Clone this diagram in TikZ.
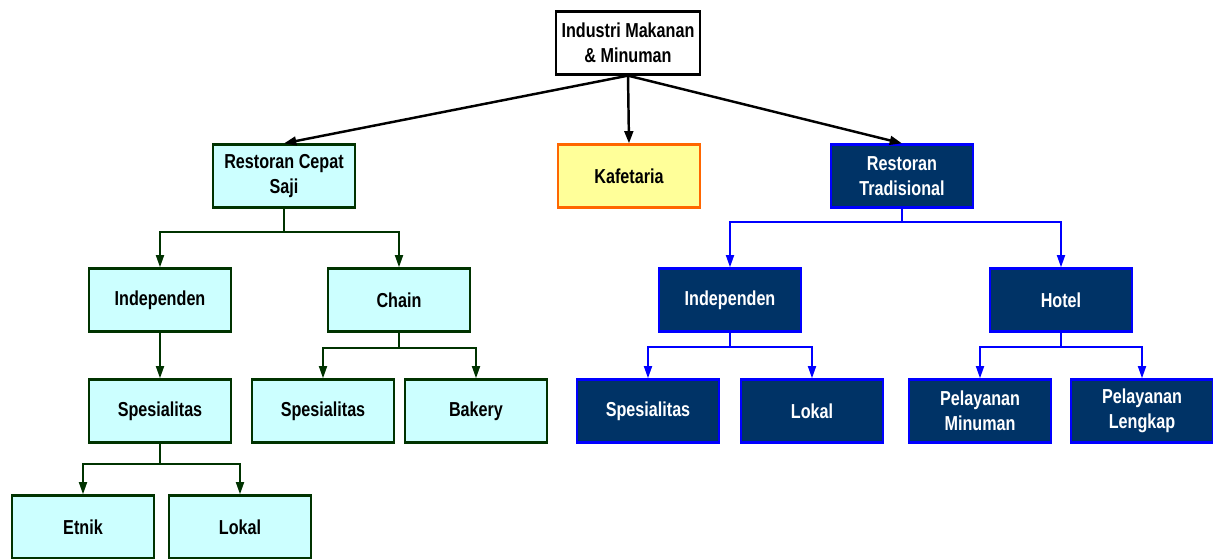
\documentclass[tikz,border=0pt]{standalone}
\usepackage{fontspec}
\setmainfont{Liberation Sans}[FakeStretch=0.8]
\usetikzlibrary{arrows.meta}
\definecolor{cyanfill}{HTML}{CCFFFF}
\definecolor{greenline}{HTML}{003300}
\definecolor{yellowfill}{HTML}{FFFF99}
\definecolor{orangeline}{HTML}{FF6600}
\definecolor{navyfill}{HTML}{003366}
\definecolor{blueline}{HTML}{0000FF}
\tikzset{
  box/.style={draw,line width=1.3pt,minimum width=2.84cm,minimum height=1.26cm,
    align=center,font=\fontsize{11.5}{14.5}\selectfont\bfseries},
  rootbox/.style={box,fill=white,draw=black},
  greenbox/.style={box,fill=cyanfill,draw=greenline},
  yellowbox/.style={box,fill=yellowfill,draw=orangeline},
  navybox/.style={box,fill=navyfill,draw=blueline,text=white},
  mainarrow/.style={line width=1.4pt,-{Triangle[length=7pt,width=5pt]}},
  greenarrow/.style={greenline,line width=1.2pt,-{Triangle[length=7pt,width=4.5pt]}},
  bluearrow/.style={blueline,line width=1.2pt,-{Triangle[length=7pt,width=4.5pt]}}
}
\begin{document}
\begin{tikzpicture}[x=0.02cm,y=-0.02cm]
  \useasboundingbox (0,0) rectangle (1213,558);
  %% Top
  \node[rootbox] (root) at (628,43) {Industri Makanan\\\& Minuman};
  %% Second level
  \node[greenbox] (saji) at (284,176) {Restoran Cepat\\Saji};
  \node[yellowbox] (kafe) at (629,176) {Kafetaria};
  \node[navybox] (trad) at (902,176) {Restoran\\Tradisional};
  %% Fast food branch
  \node[greenbox] (indepA) at (160,300) {Independen};
  \node[greenbox] (chain) at (399,300) {Chain};
  \node[greenbox] (spesA) at (160,411) {Spesialitas};
  \node[greenbox] (spesB) at (323,411) {Spesialitas};
  \node[greenbox] (bakery) at (476,411) {Bakery};
  \node[greenbox] (etnik) at (83,527) {Etnik};
  \node[greenbox] (lokalA) at (240,527) {Lokal};
  %% Traditional branch
  \node[navybox] (indepB) at (730,300) {Independen};
  \node[navybox] (hotel) at (1061,300) {Hotel};
  \node[navybox] (spesC) at (648,411) {Spesialitas};
  \node[navybox] (lokalB) at (812,411) {Lokal};
  \node[navybox] (minum) at (980,411) {Pelayanan\\Minuman};
  \node[navybox] (lengkap) at (1142,411) {Pelayanan\\Lengkap};
  %% Arrows
  \draw[mainarrow] (root.south) -- (saji.north);
  \draw[mainarrow] (root.south) -- (kafe.north);
  \draw[mainarrow] (root.south) -- (trad.north);
  \draw[greenarrow] (saji.south) -- ++(0,23) -| (indepA.north);
  \draw[greenarrow] (saji.south) -- ++(0,23) -| (chain.north);
  \draw[greenarrow] (indepA.south) -- (spesA.north);
  \draw[greenarrow] (chain.south) -- ++(0,15) -| (spesB.north);
  \draw[greenarrow] (chain.south) -- ++(0,15) -| (bakery.north);
  \draw[greenarrow] (spesA.south) -- ++(0,20) -| (etnik.north);
  \draw[greenarrow] (spesA.south) -- ++(0,20) -| (lokalA.north);
  \draw[bluearrow] (trad.south) -- ++(0,13) -| (indepB.north);
  \draw[bluearrow] (trad.south) -- ++(0,13) -| (hotel.north);
  \draw[bluearrow] (indepB.south) -- ++(0,14) -| (spesC.north);
  \draw[bluearrow] (indepB.south) -- ++(0,14) -| (lokalB.north);
  \draw[bluearrow] (hotel.south) -- ++(0,14) -| (minum.north);
  \draw[bluearrow] (hotel.south) -- ++(0,14) -| (lengkap.north);
\end{tikzpicture}
\end{document}
